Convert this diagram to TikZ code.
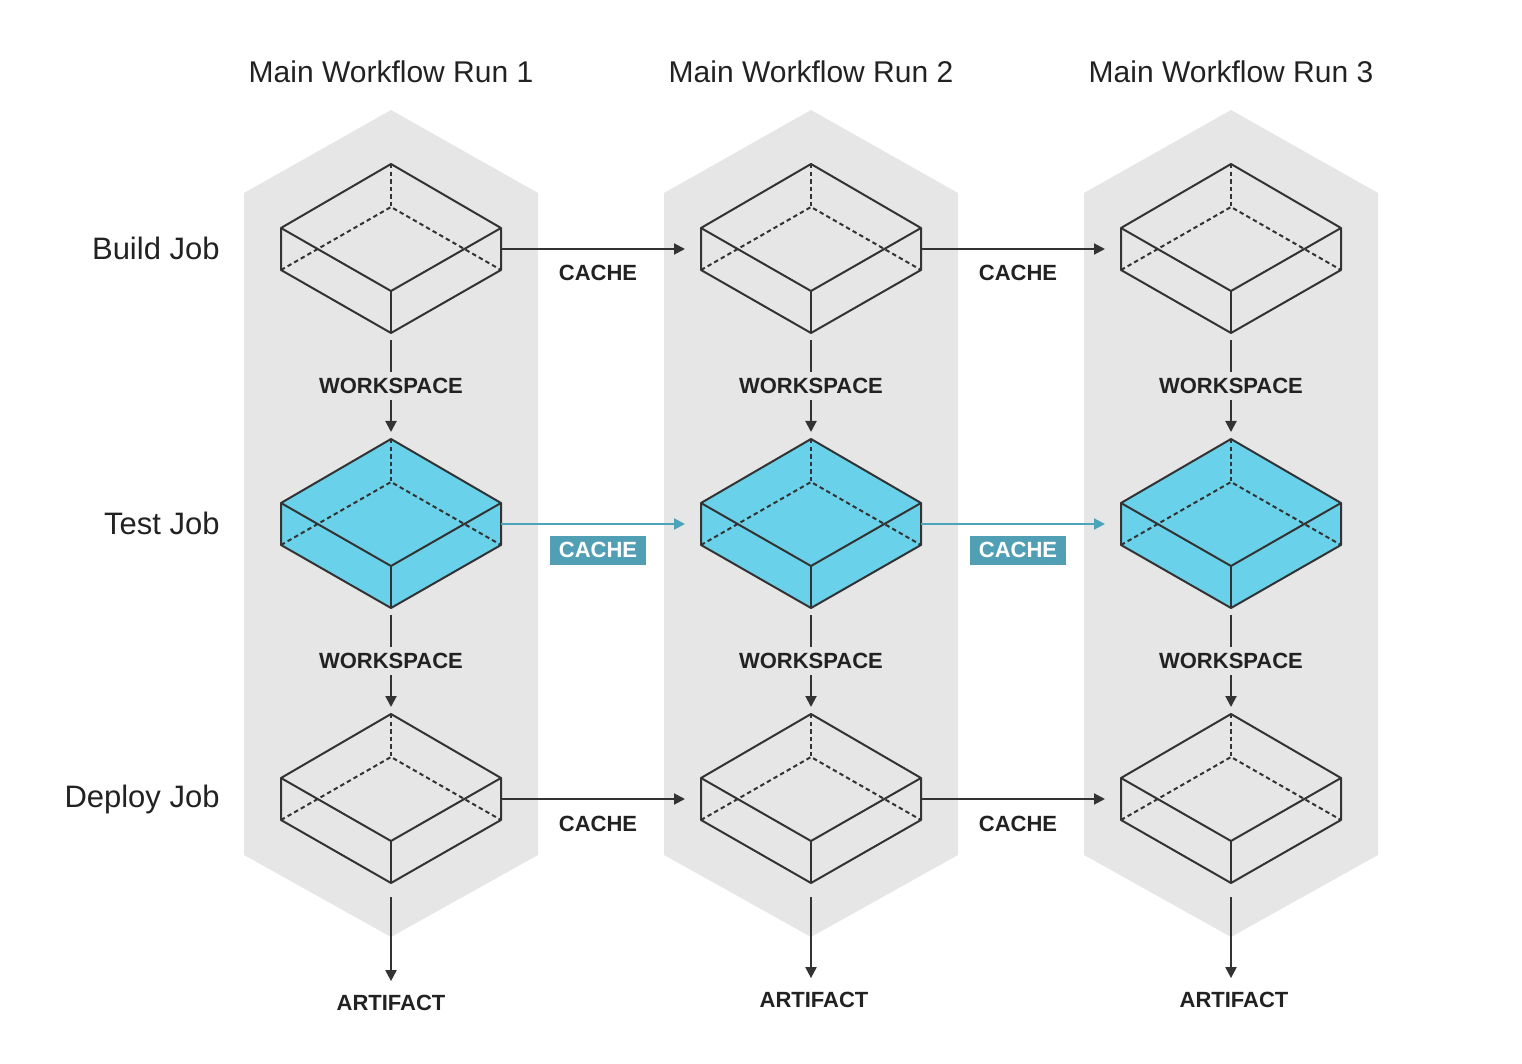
\documentclass[tikz,border=0pt]{standalone}
\usepackage{fontspec}
\setmainfont{Liberation Sans}
\usetikzlibrary{arrows.meta}

\definecolor{hexgray}{HTML}{E6E6E6}
\definecolor{linedark}{HTML}{333333}
\definecolor{textdark}{HTML}{222222}
\definecolor{testcyan}{HTML}{69D2EA}
\definecolor{cachecyan}{HTML}{4AA5BA}
\definecolor{cachebox}{HTML}{519FB5}

\tikzset{
  edge/.style={draw=linedark, line width=1pt, line join=round},
  hidden/.style={edge, dash pattern=on 2.2pt off 1.6pt},
  wire/.style={draw=linedark, line width=1pt, -{Triangle[length=5.5pt,width=5.5pt]}},
  cachewire/.style={wire, draw=cachecyan},
  lbl/.style={font=\bfseries\fontsize{11}{13}\selectfont, text=textdark},
  wslbl/.style={lbl, fill=hexgray, inner sep=3pt},
  cachetag/.style={font=\bfseries\fontsize{11}{13}\selectfont, text=white, fill=cachebox,
    minimum width=48pt, minimum height=14.5pt, inner sep=0pt},
  title/.style={font=\fontsize{15}{18}\selectfont, text=textdark},
  joblbl/.style={font=\fontsize{15.5}{18}\selectfont, text=textdark, anchor=east, inner sep=0pt}
}

% box drawn round its centre: name, x, y, fill
\newcommand{\jobcube}[4]{%
  \begin{scope}[shift={(#2,#3)}]
    \coordinate (#1) at (0,0);
    \coordinate (#1-top) at (0,-85);
    \coordinate (#1-bot) at (0,84);
    \coordinate (#1-e) at (110,0);
    \coordinate (#1-w) at (-110,0);
    \filldraw[edge, fill=#4] (0,-85) -- (110,-21) -- (110,21) -- (0,84) -- (-110,21) -- (-110,-21) -- cycle;
    \draw[edge] (-110,-21) -- (0,42) -- (110,-21);
    \draw[edge] (0,42) -- (0,84);
    \draw[hidden] (0,-85) -- (0,-42);
    \draw[hidden] (-110,21) -- (0,-42) -- (110,21);
  \end{scope}}

\begin{document}
\begin{tikzpicture}[x=0.5pt, y=-0.5pt]
  \useasboundingbox (0,0) rectangle (1522,1064);

  % columns
  \fill[hexgray] (391,110) -- (538,193) -- (538,855) -- (391,937) -- (244,855) -- (244,193) -- cycle;
  \fill[hexgray] (811,110) -- (958,193) -- (958,855) -- (811,937) -- (664,855) -- (664,193) -- cycle;
  \fill[hexgray] (1231,110) -- (1378,193) -- (1378,855) -- (1231,937) -- (1084,855) -- (1084,193) -- cycle;

  \node[title] (run1) at (391,72) {Main Workflow Run 1};
  \node[title] (run2) at (811,72) {Main Workflow Run 2};
  \node[title] (run3) at (1231,72) {Main Workflow Run 3};

  \node[joblbl] (build) at (220,248) {Build Job};
  \node[joblbl] (test) at (220,523) {Test Job};
  \node[joblbl] (deploy) at (220,799) {Deploy Job};

  % jobs
  \jobcube{b1}{391}{249}{none}
  \jobcube{b2}{811}{249}{none}
  \jobcube{b3}{1231}{249}{none}
  \jobcube{t1}{391}{524}{testcyan}
  \jobcube{t2}{811}{524}{testcyan}
  \jobcube{t3}{1231}{524}{testcyan}
  \jobcube{d1}{391}{799}{none}
  \jobcube{d2}{811}{799}{none}
  \jobcube{d3}{1231}{799}{none}

  % workspace
  \draw[wire, shorten <=3.5pt, shorten >=3.5pt] (b1-bot) -- node[wslbl] {WORKSPACE} (t1-top);
  \draw[wire, shorten <=3.5pt, shorten >=3.5pt] (b2-bot) -- node[wslbl] {WORKSPACE} (t2-top);
  \draw[wire, shorten <=3.5pt, shorten >=3.5pt] (b3-bot) -- node[wslbl] {WORKSPACE} (t3-top);
  \draw[wire, shorten <=3.5pt, shorten >=3.5pt] (t1-bot) -- node[wslbl] {WORKSPACE} (d1-top);
  \draw[wire, shorten <=3.5pt, shorten >=3.5pt] (t2-bot) -- node[wslbl] {WORKSPACE} (d2-top);
  \draw[wire, shorten <=3.5pt, shorten >=3.5pt] (t3-bot) -- node[wslbl] {WORKSPACE} (d3-top);

  % cache
  \draw[wire, shorten >=8pt] (b1-e) -- (b2-w);
  \draw[wire, shorten >=8pt] (b2-e) -- (b3-w);
  \node[lbl] at (598,273) {CACHE};
  \node[lbl] at (1018,273) {CACHE};
  \draw[cachewire, shorten >=8pt] (t1-e) -- (t2-w);
  \draw[cachewire, shorten >=8pt] (t2-e) -- (t3-w);
  \node[cachetag] at (598,550) {CACHE};
  \node[cachetag] at (1018,550) {CACHE};
  \draw[wire, shorten >=8pt] (d1-e) -- (d2-w);
  \draw[wire, shorten >=8pt] (d2-e) -- (d3-w);
  \node[lbl] at (598,824) {CACHE};
  \node[lbl] at (1018,824) {CACHE};

  % artifacts
  \node[lbl] (a1) at (391,1003) {ARTIFACT};
  \node[lbl] (a2) at (814,1000) {ARTIFACT};
  \node[lbl] (a3) at (1234,1000) {ARTIFACT};
  \draw[wire, shorten <=7pt, shorten >=3.5pt] (d1-bot) -- (a1);
  \draw[wire, shorten <=7pt, shorten >=3.5pt] (d2-bot) -- (d2-bot |- a2.north);
  \draw[wire, shorten <=7pt, shorten >=3.5pt] (d3-bot) -- (d3-bot |- a3.north);
\end{tikzpicture}
\end{document}
